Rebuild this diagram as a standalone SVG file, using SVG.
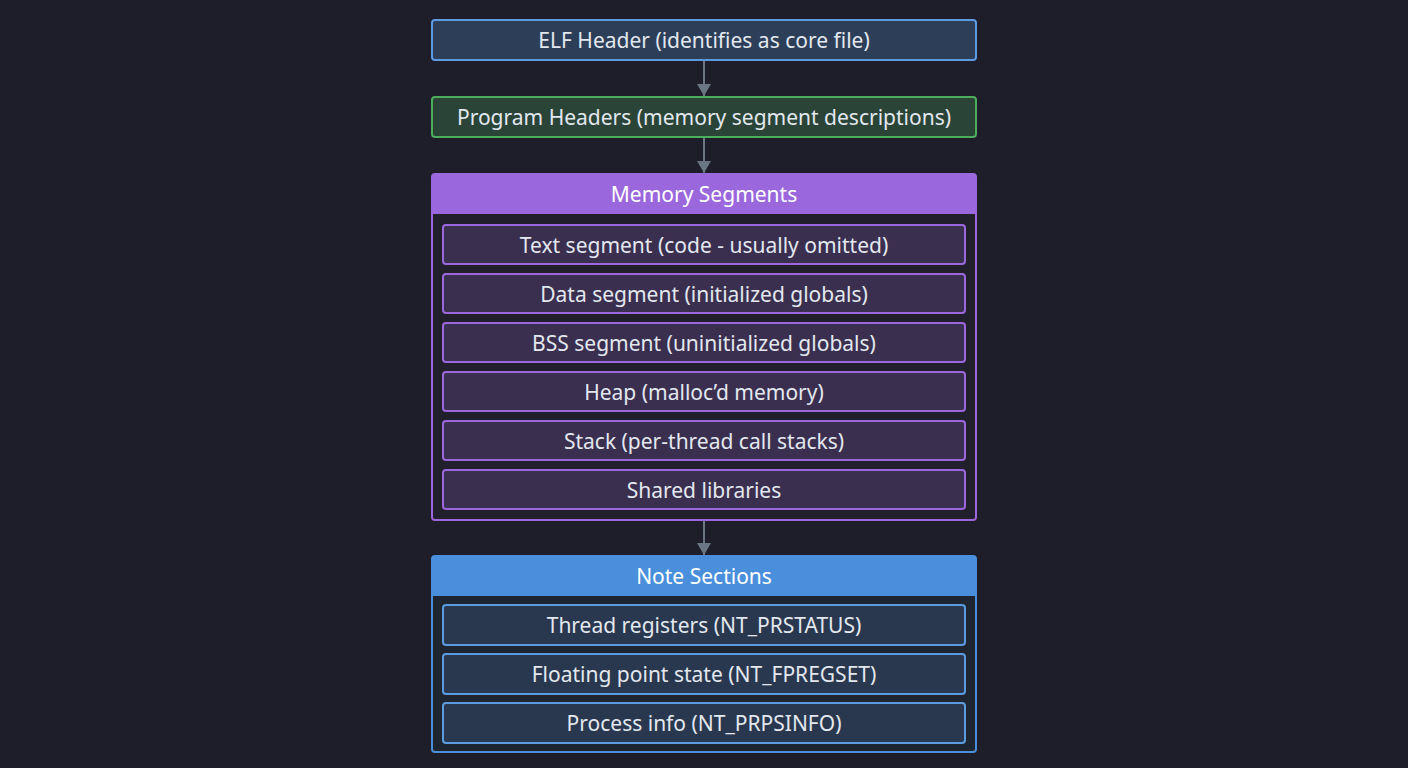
<svg xmlns="http://www.w3.org/2000/svg" width="1408" height="768" viewBox="0 0 1408 768">
<defs>
<style>
.t{font-family:"Noto Sans","Open Sans","Liberation Sans",sans-serif;font-size:21px;fill:#e3e8ef;text-anchor:middle;dominant-baseline:central}
.h{fill:#ffffff}
.blue{fill:#2c3e58;stroke:#5b9bdf;stroke-width:2}
.green{fill:#2a4538;stroke:#4cae5c;stroke-width:2}
.pitem{fill:#3a2f4f;stroke:#9a68dc;stroke-width:2}
.bitem{fill:#29384f;stroke:#5b9bdf;stroke-width:2}
.conn{stroke:#6b7685;stroke-width:2;fill:none}
</style>
<marker id="ah" viewBox="0 0 12 14" refX="12" refY="7" markerWidth="12" markerHeight="14" markerUnits="userSpaceOnUse" orient="auto">
<path d="M0,0 L12,7 L0,14 Z" fill="#6b7685"/>
</marker>
</defs>
<rect width="1408" height="768" fill="#1d1e29"/>
<g id="connectors">
<line class="conn" x1="704" y1="61" x2="704" y2="96" marker-end="url(#ah)"/>
<line class="conn" x1="704" y1="138" x2="704" y2="173" marker-end="url(#ah)"/>
<line class="conn" x1="704" y1="521" x2="704" y2="555" marker-end="url(#ah)"/>
</g>
<g id="elf-header">
<rect class="blue" x="432" y="20" width="544" height="40" rx="3"/>
<text class="t" x="704" y="40">ELF Header (identifies as core file)</text>
</g>
<g id="program-headers">
<rect class="green" x="432" y="97" width="544" height="40" rx="3"/>
<text class="t" x="704" y="117">Program Headers (memory segment descriptions)</text>
</g>
<g id="memory-segments">
<rect x="432" y="174" width="544" height="346" rx="3" fill="#211f2c" stroke="#9a68dc" stroke-width="2"/>
<path d="M432,214 V177 a3,3 0 0 1 3,-3 H973 a3,3 0 0 1 3,3 V214 Z" fill="#9a68dc"/>
<text class="t h" x="704" y="194">Memory Segments</text>
</g>
<g id="text-segment"><rect class="pitem" x="443" y="225" width="522" height="39" rx="3"/><text class="t" x="704" y="244.5">Text segment (code - usually omitted)</text></g>
<g id="data-segment"><rect class="pitem" x="443" y="274" width="522" height="39" rx="3"/><text class="t" x="704" y="293.5">Data segment (initialized globals)</text></g>
<g id="bss-segment"><rect class="pitem" x="443" y="323" width="522" height="39" rx="3"/><text class="t" x="704" y="342.5">BSS segment (uninitialized globals)</text></g>
<g id="heap"><rect class="pitem" x="443" y="372" width="522" height="39" rx="3"/><text class="t" x="704" y="391.5">Heap (malloc’d memory)</text></g>
<g id="stack"><rect class="pitem" x="443" y="421" width="522" height="39" rx="3"/><text class="t" x="704" y="440.5">Stack (per-thread call stacks)</text></g>
<g id="shared-libraries"><rect class="pitem" x="443" y="470" width="522" height="39" rx="3"/><text class="t" x="704" y="489.5">Shared libraries</text></g>
<g id="note-sections">
<rect x="432" y="556" width="544" height="196" rx="3" fill="#1f2431" stroke="#4a8fdb" stroke-width="2"/>
<path d="M432,596 V559 a3,3 0 0 1 3,-3 H973 a3,3 0 0 1 3,3 V596 Z" fill="#4a8fdb"/>
<text class="t h" x="704" y="576">Note Sections</text>
</g>
<g id="thread-registers"><rect class="bitem" x="443" y="605" width="522" height="40" rx="3"/><text class="t" x="704" y="625">Thread registers (NT_PRSTATUS)</text></g>
<g id="floating-point"><rect class="bitem" x="443" y="654" width="522" height="40" rx="3"/><text class="t" x="704" y="674">Floating point state (NT_FPREGSET)</text></g>
<g id="process-info"><rect class="bitem" x="443" y="703" width="522" height="40" rx="3"/><text class="t" x="704" y="723">Process info (NT_PRPSINFO)</text></g>
</svg>
